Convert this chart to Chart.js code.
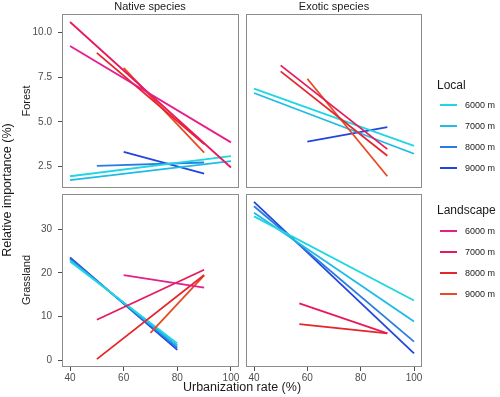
<!DOCTYPE html>
<html>
<head>
<meta charset="utf-8">
<script src="https://cdn.jsdelivr.net/npm/chart.js@4.4.0/dist/chart.umd.min.js"></script>
<style>
  body { margin: 0; background: #fff; font-family: "Liberation Sans", Arial, sans-serif; }
  #wrap { position: relative; width: 500px; height: 397px; overflow: hidden; }
  canvas { position: absolute; left: 0; top: 0; }
  .lbl { position: absolute; white-space: nowrap; transform: translate(-50%, -50%); color: #1a1a1a; }
  .rot { transform: translate(-50%, -50%) rotate(-90deg); }
  .key { position: absolute; height: 2px; width: 17px; left: 440px; }
  .keytxt { position: absolute; left: 465px; font-size: 9px; color: #1a1a1a; transform: translateY(-50%); white-space: nowrap; }
  .keyttl { position: absolute; left: 437px; font-size: 12px; color: #1a1a1a; transform: translateY(-50%); white-space: nowrap; }
</style>
</head>
<body>
<div id="wrap">
  <canvas id="c1" width="500" height="397"></canvas>
  <canvas id="c2" width="500" height="397"></canvas>
  <canvas id="c3" width="500" height="397"></canvas>
  <canvas id="c4" width="500" height="397"></canvas>

  <div class="lbl" style="left:150px;top:6px;font-size:11px">Native species</div>
  <div class="lbl" style="left:334px;top:6px;font-size:11px">Exotic species</div>
  <div class="lbl rot" style="left:26px;top:101px;font-size:11px">Forest</div>
  <div class="lbl rot" style="left:26px;top:280px;font-size:11px">Grassland</div>
  <div class="lbl rot" style="left:7px;top:190px;font-size:12.5px">Relative importance (%)</div>
  <div class="lbl" style="left:242px;top:387px;font-size:12.5px">Urbanization rate (%)</div>
  <div id="legend"></div>
</div>

<script>
// Legenddeki mesafeler
const sizes = ['6000 m', '7000 m', '8000 m', '9000 m'];
const localColors = ['#1fd6e3', '#1fbbe6', '#2b7be0', '#2146e0'];
const landColors = ['#e61e8c', '#e8195a', '#e5262a', '#e84a24'];

// Eksen etiketleri
const xTicks = [40, 60, 80, 100];
const forestTicks = [2.5, 5, 7.5, 10];
const grassTicks = [0, 10, 20, 30];

// Her çizgi: [x başlangıç, x bitiş] ve [y başlangıç, y bitiş]; null = çizgi yok
const nativeForestLocalX = [[40, 100], [40, 100], [50, 90], [60, 90]];
const nativeForestLocalY = [[1.95, 3.08], [1.73, 2.80], [2.53, 2.72], [3.32, 2.10]];
const nativeForestLandX = [[40, 100], [40, 100], [50, 90], [60, 90]];
const nativeForestLandY = [[9.25, 3.85], [10.6, 2.44], [8.87, 3.76], [8.03, 3.27]];

const exoticForestLocalX = [[40, 100], [40, 100], null, [60, 90]];
const exoticForestLocalY = [[6.86, 3.65], [6.62, 3.21], null, [3.89, 4.70]];
const exoticForestLandX = [null, [50, 90], [50, 90], [60, 90]];
const exoticForestLandY = [null, [8.17, 3.47], [7.83, 3.10], [7.42, 1.95]];

const nativeGrassLocalX = [[40, 80], [40, 80], [40, 80], [40, 80]];
const nativeGrassLocalY = [[22.6, 3.9], [22.9, 3.4], [23.2, 2.9], [23.5, 2.4]];
const nativeGrassLandX = [[60, 90], [50, 90], [50, 90], [70, 90]];
const nativeGrassLandY = [[19.5, 16.6], [9.3, 20.7], [0.3, 19.5], [6.3, 19.4]];

const exoticGrassLocalX = [[40, 100], [40, 100], [40, 100], [40, 100]];
const exoticGrassLocalY = [[32.9, 13.7], [33.7, 8.9], [35.2, 4.3], [36.2, 1.6]];
const exoticGrassLandX = [null, [57, 90], [57, 90], null];
const exoticGrassLandY = [null, [13.05, 6.2], [8.3, 6.2], null];

const fontFamily = '"Liberation Sans", Arial, sans-serif';
const Y_AXIS_W = 30;
const X_AXIS_H = 22;

// Panel çerçevesi
const panelBorder = {
    id: 'panelBorder',
    afterDraw(chart) {
        const { ctx, chartArea: a } = chart;
        ctx.save();
        ctx.strokeStyle = '#8c8c8c';
        ctx.lineWidth = 1;
        ctx.strokeRect(a.left + 0.5, a.top + 0.5, a.right - a.left - 1, a.bottom - a.top - 1);
        ctx.restore();
    }
};

function toPoints(xs, ys) {
    if (!xs) return [];
    return [{ x: xs[0], y: ys[0] }, { x: xs[1], y: ys[1] }];
}

function buildDatasets(localX, localY, landX, landY) {
    const sets = [];
    // Landscape çizgileri üstte
    for (let i = 0; i < 4; i++) {
        sets.push({ data: toPoints(landX[i], landY[i]), borderColor: landColors[i] });
    }
    for (let i = 0; i < 4; i++) {
        sets.push({ data: toPoints(localX[i], localY[i]), borderColor: localColors[i] });
    }
    return sets.map(s => Object.assign(s, { showLine: true, pointRadius: 0, borderWidth: 1.8 }));
}

function makePanel(id, box, datasets, yMin, yMax, yTicks, yFmt, showX, showY) {
    const padding = {
        left: showY ? box.left - Y_AXIS_W : box.left,
        top: box.top,
        right: 500 - box.right,
        bottom: showX ? 397 - box.bottom - X_AXIS_H : 397 - box.bottom
    };
    const tickStyle = { color: '#4d4d4d', font: { size: 10, family: fontFamily } };
    new Chart(document.getElementById(id), {
        type: 'scatter',
        data: { datasets },
        options: {
            responsive: false,
            animation: false,
            layout: { padding },
            plugins: { legend: { display: false }, tooltip: { enabled: false } },
            scales: {
                x: {
                    type: 'linear', min: 37, max: 103, display: showX,
                    afterBuildTicks: s => { s.ticks = xTicks.map(v => ({ value: v })); },
                    afterFit: s => { s.height = showX ? X_AXIS_H : 0; },
                    grid: { drawOnChartArea: false, drawTicks: true, tickLength: 4, color: '#4d4d4d' },
                    border: { display: false },
                    ticks: Object.assign({ padding: 1, maxRotation: 0 }, tickStyle)
                },
                y: {
                    type: 'linear', min: yMin, max: yMax, display: showY,
                    afterBuildTicks: s => { s.ticks = yTicks.map(v => ({ value: v })); },
                    afterFit: s => { s.width = showY ? Y_AXIS_W : 0; },
                    grid: { drawOnChartArea: false, drawTicks: true, tickLength: 4, color: '#4d4d4d' },
                    border: { display: false },
                    ticks: Object.assign({ padding: 6, callback: yFmt }, tickStyle)
                }
            }
        },
        plugins: [panelBorder]
    });
}

const fmtForest = v => v.toFixed(1);
const fmtGrass = v => String(v);

makePanel('c1', { left: 62, top: 14, right: 239, bottom: 188 },
    buildDatasets(nativeForestLocalX, nativeForestLocalY, nativeForestLandX, nativeForestLandY),
    1.29, 11.05, forestTicks, fmtForest, false, true);
makePanel('c2', { left: 246, top: 14, right: 422, bottom: 188 },
    buildDatasets(exoticForestLocalX, exoticForestLocalY, exoticForestLandX, exoticForestLandY),
    1.29, 11.05, forestTicks, fmtForest, false, false);
makePanel('c3', { left: 62, top: 194, right: 239, bottom: 367 },
    buildDatasets(nativeGrassLocalX, nativeGrassLocalY, nativeGrassLandX, nativeGrassLandY),
    -1.5, 38, grassTicks, fmtGrass, true, true);
makePanel('c4', { left: 246, top: 194, right: 422, bottom: 367 },
    buildDatasets(exoticGrassLocalX, exoticGrassLocalY, exoticGrassLandX, exoticGrassLandY),
    -1.5, 38, grassTicks, fmtGrass, true, false);

// Lejant
function buildLegend() {
    const el = document.getElementById('legend');
    let html = '<div class="keyttl" style="top:85px">Local</div>';
    sizes.forEach((s, i) => {
        const y = 105 + i * 21;
        html += `<div class="key" style="top:${y - 1}px;background:${localColors[i]}"></div>`;
        html += `<div class="keytxt" style="top:${y}px">${s}</div>`;
    });
    html += '<div class="keyttl" style="top:210px">Landscape</div>';
    sizes.forEach((s, i) => {
        const y = 231 + i * 21;
        html += `<div class="key" style="top:${y - 1}px;background:${landColors[i]}"></div>`;
        html += `<div class="keytxt" style="top:${y}px">${s}</div>`;
    });
    el.innerHTML = html;
}
buildLegend();
</script>
</body>
</html>
